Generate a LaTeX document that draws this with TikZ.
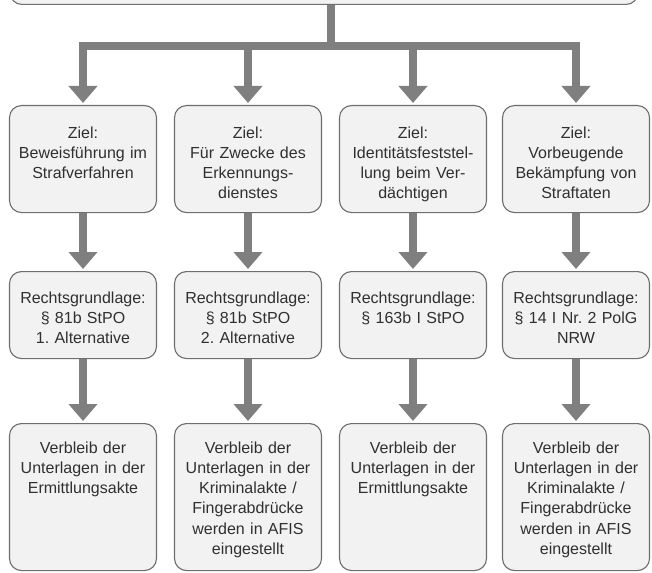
\documentclass[tikz,border=0pt]{standalone}
\usepackage{fontspec}
\setmainfont{Liberation Sans}
\usetikzlibrary{arrows.meta}
\definecolor{boxfill}{HTML}{F2F2F2}
\definecolor{boxdraw}{HTML}{6E6E6E}
\definecolor{arrowgray}{HTML}{7F7F7F}
\definecolor{textgray}{HTML}{303030}
\frenchspacing
\tikzset{
  box/.style={draw=boxdraw, fill=boxfill, line width=1.1pt, rounded corners=12pt,
    anchor=north, minimum width=147pt, text width=145pt, inner xsep=1pt, inner ysep=0pt,
    align=center, font=\fontsize{16}{20.3}\selectfont, text=textgray},
  ziel/.style={box, text height=32.5pt, text depth=74.5pt},
  rg/.style={box, text height=31.5pt, text depth=55.5pt},
  verb/.style={box, text height=29.5pt, text depth=117.5pt},
  conn/.style={draw=arrowgray, line width=7.5pt, line join=miter},
  arr/.style={conn, -{Triangle[width=28pt,length=17pt]}, shorten >=2pt},
}
\begin{document}
\begin{tikzpicture}[x=1pt, y=-1pt]
\clip (0,0) rectangle (652,572);
\useasboundingbox (0,0) rectangle (652,572);
% top box (only lower edge visible)
\node[draw=boxdraw, fill=boxfill, line width=1.1pt, rounded corners=12pt,
  minimum width=628pt, minimum height=60pt, anchor=south, inner sep=0pt] (top) at (324,5) {};
% row 1
\node[ziel] (z1) at (83,105) {Ziel:\\Beweisführung im\\Strafverfahren};
\node[ziel] (z2) at (248,105) {Ziel:\\Für Zwecke des\\Erkennungs-\\dienstes};
\node[ziel] (z3) at (413,105) {Ziel:\\Identitätsfeststel-\\lung beim Ver-\\dächtigen};
\node[ziel] (z4) at (576,105) {Ziel:\\Vorbeugende\\Bekämpfung von\\Straftaten};
% row 2
\node[rg] (r1) at (83,271) {Rechtsgrundlage:\\§ 81b StPO\\1. Alternative};
\node[rg] (r2) at (248,271) {Rechtsgrundlage:\\§ 81b StPO\\2. Alternative};
\node[rg] (r3) at (413,271) {Rechtsgrundlage:\\§ 163b I StPO};
\node[rg] (r4) at (576,271) {Rechtsgrundlage:\\§ 14 I Nr. 2 PolG\\NRW};
% row 3
\node[verb] (v1) at (83,423) {Verbleib der\\Unterlagen in der\\Ermittlungsakte};
\node[verb] (v2) at (248,423) {Verbleib der\\Unterlagen in der\\Kriminalakte /\\Fingerabdrücke\\werden in AFIS\\eingestellt};
\node[verb] (v3) at (413,423) {Verbleib der\\Unterlagen in der\\Ermittlungsakte};
\node[verb] (v4) at (576,423) {Verbleib der\\Unterlagen in der\\Kriminalakte /\\Fingerabdrücke\\werden in AFIS\\eingestellt};
% connectors
\coordinate (j) at (331,46);
\draw[conn] (j |- top.south) -- (j);
\foreach \i in {1,2,3,4}{
  \draw[arr] (j) -| (z\i.north);
  \draw[arr] (z\i.south) -- (r\i.north);
  \draw[arr] (r\i.south) -- (v\i.north);
}
\end{tikzpicture}
\end{document}
